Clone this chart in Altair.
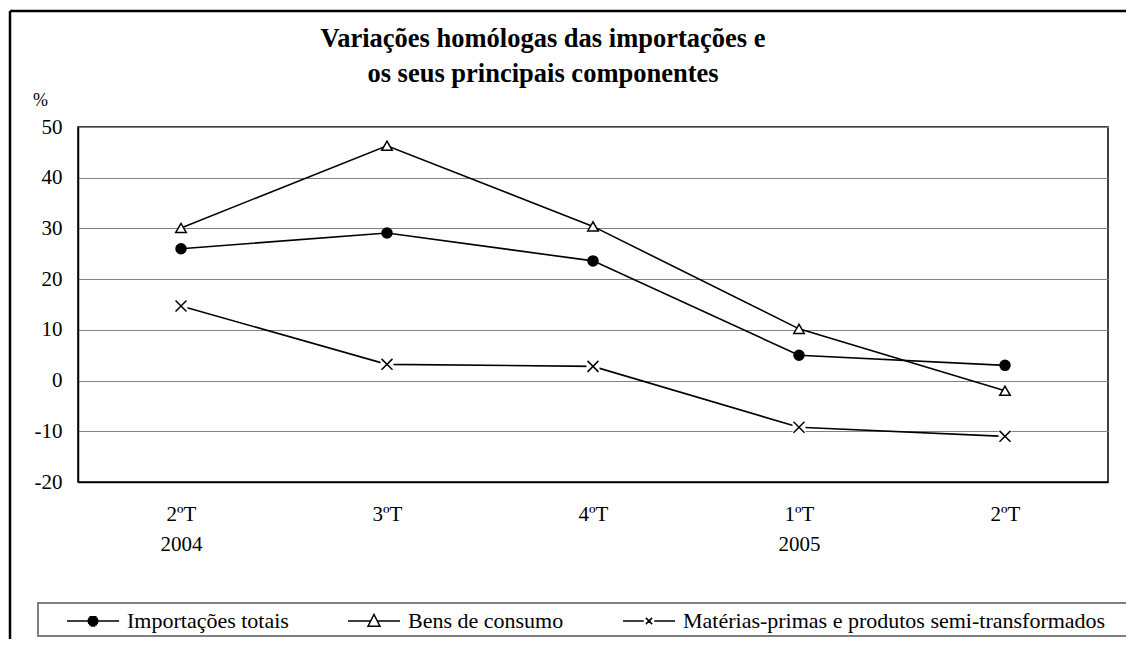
import altair as alt
import pandas as pd

# ---- data ----
quarters = ["2ºT\n2004", "3ºT", "4ºT", "1ºT\n2005", "2ºT"]
series_names = ["Importações totais", "Bens de consumo",
                "Matérias-primas e produtos semi-transformados"]
importacoes_totais = [26.0, 29.1, 23.6, 5.0, 3.0]
bens_de_consumo = [30.1, 46.3, 30.4, 10.2, -2.0]
materias_primas = [14.7, 3.2, 2.8, -9.2, -11.0]
y_ticks = [-20, -10, 0, 10, 20, 30, 40, 50]
title_lines = "Variações homólogas das importações e\nos seus principais componentes"

rows = []
for name, vals in zip(series_names, [importacoes_totais, bens_de_consumo, materias_primas]):
    for q, v in zip(quarters, vals):
        rows.append({"q": q, "serie": name, "v": v})
df = pd.DataFrame(rows)
one = pd.DataFrame({"k": [0]})

FONT = "Liberation Serif"
W, H = 1030, 355

xenc = alt.X("q:N", sort=quarters, title=None,
             axis=alt.Axis(labelExpr="split(datum.label, '\\n')", labelAngle=0,
                           labelFont=FONT, labelFontSize=21, labelColor="black",
                           labelPadding=21, labelLineHeight=30, ticks=False,
                           domainColor="black", domainWidth=1.5, grid=False))
yenc = alt.Y("v:Q", title="%",
             scale=alt.Scale(domain=[-20, 50], nice=False, zero=False),
             axis=alt.Axis(values=y_ticks, labelExpr="toString(datum.value)",
                           labelFont=FONT, labelFontSize=21,
                           labelColor="black", labelPadding=16, ticks=False,
                           domainColor="black", domainWidth=1.5,
                           grid=True, gridColor="#808080", gridWidth=1,
                           titleAngle=0, titleX=-38, titleY=-22, titleAlign="center",
                           titleBaseline="alphabetic", titleFont=FONT, titleFontSize=18,
                           titleFontWeight="normal", titleColor="black"))

base = alt.Chart(df)

lines = base.mark_line(color="black", strokeWidth=1.6).encode(
    x=xenc, y=yenc, detail="serie:N")

# white patches behind the cross markers (gaps in lines and gridlines)
patches = base.transform_filter(
    alt.datum.serie == series_names[2]
).mark_point(shape="square", filled=True, color="white", opacity=1, size=170).encode(
    x=alt.X("q:N", sort=quarters), y="v:Q")

points = base.mark_point(stroke="black", strokeWidth=1.5, opacity=1).encode(
    x=alt.X("q:N", sort=quarters), y="v:Q",
    shape=alt.Shape("serie:N", scale=alt.Scale(
        domain=series_names,
        range=["circle", "triangle-up", "M-1,-1L1,1M-1,1L1,-1"]), legend=None),
    fill=alt.Fill("serie:N", scale=alt.Scale(
        domain=series_names, range=["black", "white", "transparent"]), legend=None),
    size=alt.Size("serie:N", scale=alt.Scale(
        domain=series_names, range=[100, 120, 40]), legend=None),
)

# legend symbols: line with marker in the middle (unit box [-1,1])
def disc(r, step=0.05):
    parts = []
    y = -r
    while y <= r + 1e-9:
        hw = max((r * r - y * y), 0) ** 0.5
        parts.append(f"M{-hw:.3f},{y:.3f}L{hw:.3f},{y:.3f}")
        y += step
    return "".join(parts)

sym_circle = "M-1,0L1,0" + disc(0.21)
sym_tri = "M-1,0L-0.128,0M0.128,0L1,0M0,-0.25L0.23,0.2L-0.23,0.2Z"
sym_cross = "M-1,0L-0.2,0M0.2,0L1,0M-0.12,-0.12L0.12,0.12M-0.12,0.12L0.12,-0.12"

legend_layer = base.transform_filter("false").mark_point(
    color="black", filled=False, opacity=1).encode(
    x=alt.X("q:N", sort=quarters), y="v:Q",
    shape=alt.Shape("serie:N", title=None, scale=alt.Scale(
        domain=series_names, range=[sym_circle, sym_tri, sym_cross]),
        legend=alt.Legend(orient="none", legendX=-12, legendY=467,
                          direction="horizontal", columns=3, padding=0,
                          symbolSize=2704, symbolStrokeWidth=1.5,
                          symbolStrokeColor="black", symbolFillColor="transparent",
                          symbolOpacity=1, labelFont=FONT, labelFontSize=22,
                          labelColor="black", labelOffset=7, columnPadding=56,
                          labelLimit=700)),
)

# frame and legend box (styling)
frame_left = alt.Chart(one).mark_rule(color="black", strokeWidth=2.5).encode(
    x=alt.value(-68), y=alt.value(-116), y2=alt.value(H + 160))
frame_top = alt.Chart(one).mark_rule(color="black", strokeWidth=2.5).encode(
    x=alt.value(-68), x2=alt.value(W + 60), y=alt.value(-116))
legend_box = alt.Chart(one).mark_rect(fill="white", stroke="#7f7f7f", strokeWidth=2).encode(
    x=alt.value(-40), x2=alt.value(W + 60), y=alt.value(476), y2=alt.value(509))

title = alt.Chart(one).mark_text(
    font=FONT, fontSize=26.5, fontWeight="bold", color="black",
    align="center", baseline="alphabetic", lineBreak="\n", lineHeight=35
).encode(x=alt.value(465), y=alt.value(-80), text=alt.value(title_lines))

chart = alt.layer(
    frame_left, frame_top, legend_box, title, lines, patches, points, legend_layer
).resolve_scale(shape="independent", size="independent", fill="independent").properties(
    width=W, height=H,
    autosize=alt.AutoSizeParams(type="none"),
    padding={"left": 70, "top": 119, "right": 18, "bottom": 157},
    background="white",
).configure_view(stroke="black", strokeWidth=1.5)

chart.save("out.html", embed_options={"renderer": "svg", "actions": False})
